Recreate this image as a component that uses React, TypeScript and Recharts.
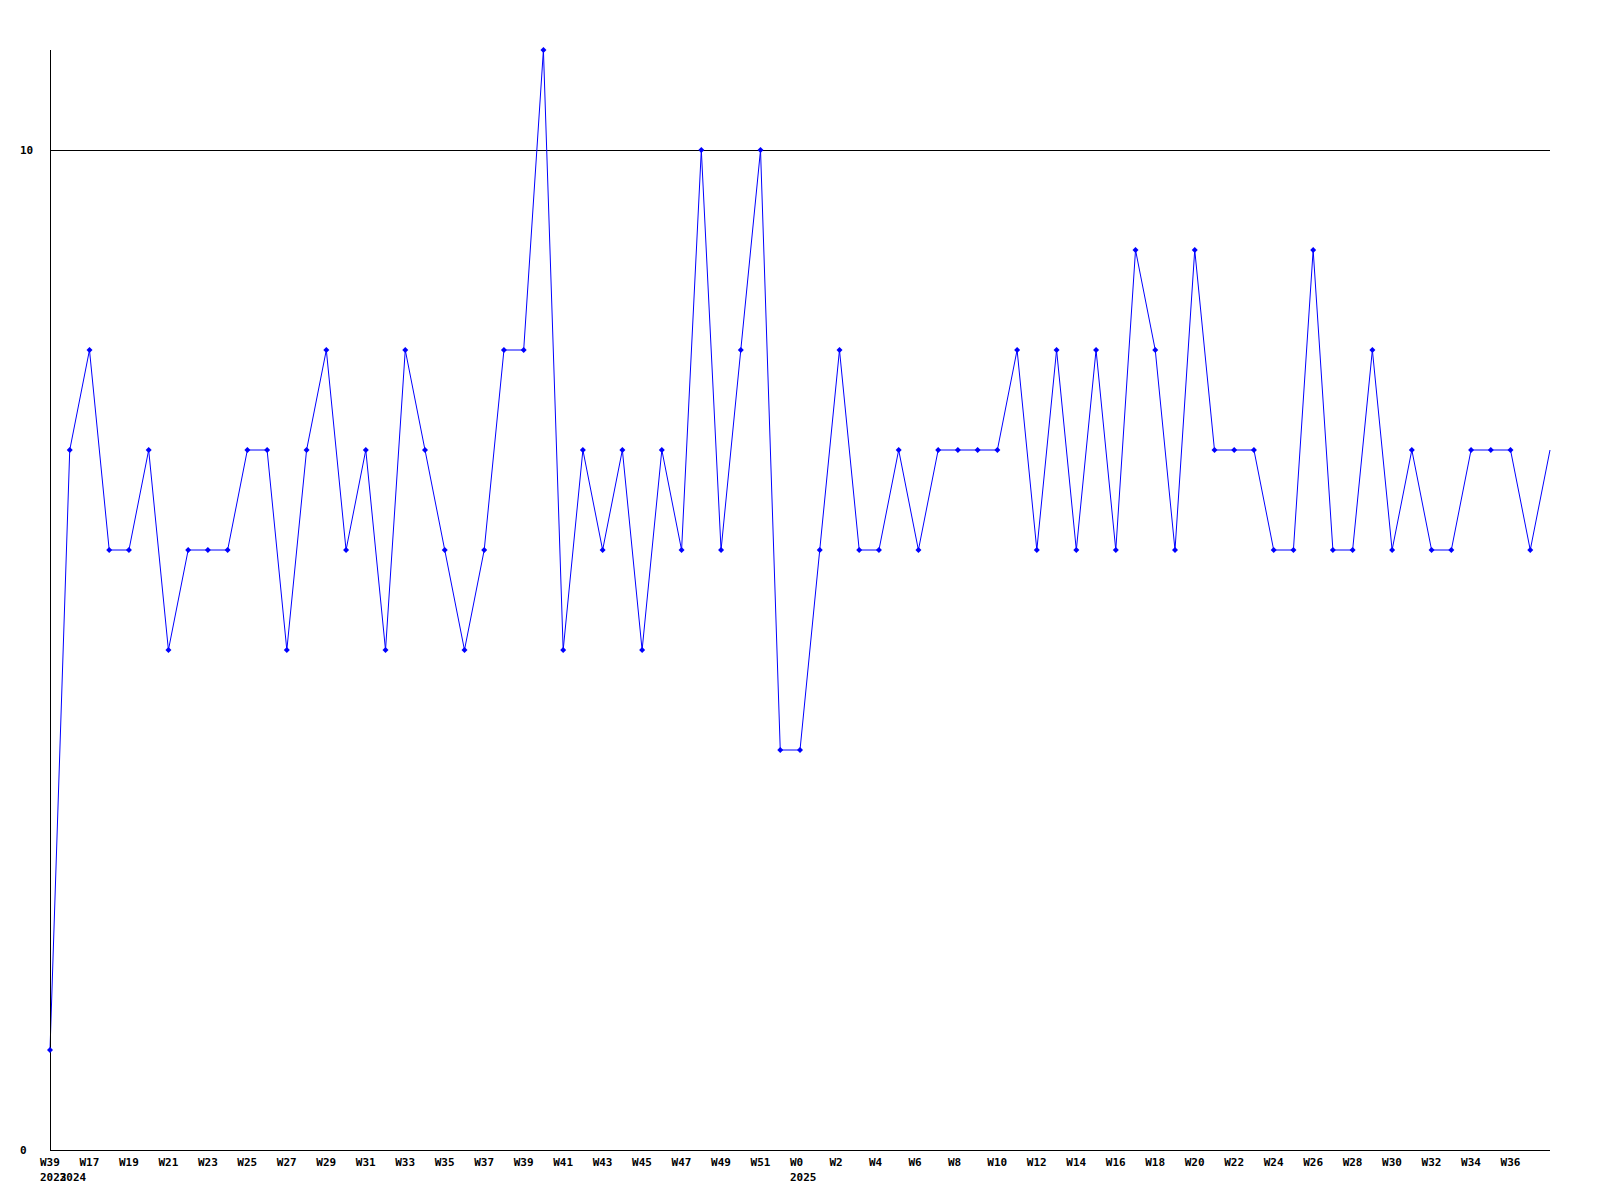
import { LineChart, Line, XAxis, YAxis, CartesianGrid } from "recharts";

const weeks = [
  "W39",
  "W16", "W17", "W18", "W19", "W20", "W21", "W22", "W23", "W24", "W25",
  "W26", "W27", "W28", "W29", "W30", "W31", "W32", "W33", "W34", "W35",
  "W36", "W37", "W38", "W39", "W40", "W41", "W42", "W43", "W44", "W45",
  "W46", "W47", "W48", "W49", "W50", "W51", "W52",
  "W0", "W1", "W2", "W3", "W4", "W5", "W6", "W7", "W8", "W9", "W10",
  "W11", "W12", "W13", "W14", "W15", "W16", "W17", "W18", "W19", "W20",
  "W21", "W22", "W23", "W24", "W25", "W26", "W27", "W28", "W29", "W30",
  "W31", "W32", "W33", "W34", "W35", "W36", "W37", "W38",
];

const counts = [
  1,
  7, 8, 6, 6, 7, 5, 6, 6, 6, 7, 7, 5, 7, 8, 6, 7, 5, 8, 7, 6,
  5, 6, 8, 8, 11, 5, 7, 6, 7, 5, 7, 6, 10, 6, 8, 10, 4, 4, 6, 8,
  6, 6, 7, 6, 7, 7, 7, 7, 8, 6, 8, 6, 8, 6, 9, 8, 6, 9, 7, 7,
  7, 6, 6, 9, 6, 6, 8, 6, 7, 6, 6, 7, 7, 7, 6, 7,
];

const yearStarts = [
  { index: 0, year: "2023" },
  { index: 1, year: "2024" },
  { index: 38, year: "2025" },
];

const yTicks = [0, 10];
const gridValues = [10];

const data = counts.map((count, i) => ({ i, week: weeks[i], count }));
const allTicks = data.map((d) => d.i);
const lastIndex = counts.length - 1;

const FONT = "'DejaVu Sans Mono', monospace";
const BLUE = "#0000ff";

const WeekTick = (props: any) => {
  const { x, y, payload } = props;
  const idx = payload.value as number;
  const year = yearStarts.find((s) => s.index === idx);
  return (
    <g>
      {idx % 2 === 0 && idx !== lastIndex && (
        <text x={x - 10} y={y + 16} fontSize={11} fontWeight="bold" fontFamily={FONT} fill="#000" textAnchor="start">
          {weeks[idx]}
        </text>
      )}
      {year && (
        <text x={x - 10} y={y + 31} fontSize={11} fontWeight="bold" fontFamily={FONT} fill="#000" textAnchor="start">
          {year.year}
        </text>
      )}
    </g>
  );
};

const CountTick = (props: any) => {
  const { x, y, payload } = props;
  return (
    <text x={x - 30} y={y + 4} fontSize={11} fontWeight="bold" fontFamily={FONT} fill="#000" textAnchor="start">
      {payload.value}
    </text>
  );
};

const Marker = (props: any) => {
  const { cx, cy, index } = props;
  if (index === lastIndex || cx == null || cy == null) return <g key={index} />;
  return (
    <polygon
      key={index}
      points={`${cx},${cy - 3} ${cx + 3},${cy} ${cx},${cy + 3} ${cx - 3},${cy}`}
      fill={BLUE}
    />
  );
};

export default function App() {
  return (
    <div style={{ position: "absolute", left: 0, top: 0, width: 1600, height: 1200, background: "#fff" }}>
      <LineChart width={1600} height={1200} data={data} margin={{ top: 50, right: 50, left: 0, bottom: 0 }}>
        <CartesianGrid
          vertical={false}
          horizontalValues={gridValues}
          stroke="#000"
          strokeWidth={1}
          shapeRendering="crispEdges"
        />
        <XAxis
          dataKey="i"
          type="number"
          domain={[0, lastIndex]}
          ticks={allTicks}
          interval={0}
          height={50}
          tick={<WeekTick />}
          tickLine={false}
          tickSize={0}
          tickMargin={0}
          axisLine={{ stroke: "#000", strokeWidth: 1, shapeRendering: "crispEdges" }}
        />
        <YAxis
          domain={[0, 11]}
          ticks={yTicks}
          width={50}
          tick={<CountTick />}
          tickLine={false}
          tickSize={0}
          tickMargin={0}
          axisLine={{ stroke: "#000", strokeWidth: 1, shapeRendering: "crispEdges" }}
        />
        <Line
          type="linear"
          dataKey="count"
          stroke={BLUE}
          strokeWidth={1}
          dot={<Marker />}
          activeDot={false}
          isAnimationActive={false}
        />
      </LineChart>
    </div>
  );
}
